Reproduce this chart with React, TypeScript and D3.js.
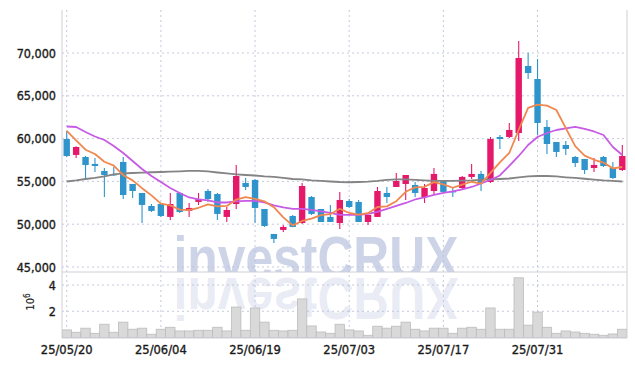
import React from "react";
import * as d3 from "d3";

const opens = [59950,58090,57850,57040,56220,55870,57270,54700,53650,52130,52360,50850,53650,51550,52600,53880,53530,50850,52360,54820,55170,51780,48860,49330,50960,50140,53180,51780,50850,50140,52710,52600,50260,50850,53650,54350,54700,54580,53180,53880,55050,53880,54230,55520,55870,54930,60190,60190,60650,68480,66960,61360,59600,59250,57850,57620,56570,57850,56570,56330];
const highs = [60890,59100,57970,57740,56570,56680,57850,54700,53650,52360,52360,53650,53770,52480,53650,54110,53650,52010,56920,55400,55280,51780,48860,49910,51080,54820,53300,51780,52250,53770,52950,52830,51080,54350,54350,55980,55750,54930,54700,56570,55170,54350,55630,57040,56220,60190,60420,61830,71400,70030,69300,62170,59600,59720,57970,57620,57740,57970,57270,59250];
const lows = [57850,57740,55170,56100,53180,55630,52940,53060,50140,51430,50850,50490,51310,50850,52250,52600,50490,50260,51780,54000,50140,49680,47810,49100,49640,50030,51080,50260,50260,49440,51900,50260,49910,50850,52480,54350,52830,53180,52480,53410,53650,53180,54110,55280,53880,54820,58790,60070,59720,66960,60420,58200,57850,58090,56680,55870,56100,56680,55280,56220];
const closes = [57970,59020,56920,56800,55750,55750,53410,53880,52250,51550,50960,52360,51430,51900,52950,52940,51200,51660,55630,54350,51900,49790,48280,49680,49680,54460,51200,50260,50260,52830,52010,50260,51080,53880,53180,55050,55750,53650,54230,55870,53770,53770,55520,55870,54820,59950,59950,61010,69420,67660,61830,59370,58440,58790,57150,56330,56920,56800,55400,57970];
const volumes = [0.58,0.4,0.71,0.32,1.01,0.4,1.17,0.63,0.71,0.25,0.63,0.78,0.5,0.5,0.55,0.55,0.78,0.5,2.32,0.55,2.25,1.17,0.55,0.5,0.55,2.94,0.88,0.42,0.32,1.01,0.58,0.5,0.17,0.86,0.71,0.86,1.17,0.63,0.5,0.71,0.71,0.32,0.71,0.78,0.63,2.25,0.63,0.63,4.55,0.94,1.94,0.78,0.32,0.5,0.42,0.32,0.25,0.17,0.27,0.63];
const ma5 = [60890,59800,58700,58200,57292,56848,55726,55118,54208,53368,52410,52200,51710,51640,51920,52316,52084,52130,52876,53156,52948,52666,51990,50800,49866,50378,50660,51056,51172,51802,51312,51124,51288,52012,52082,52690,53788,54302,54372,54910,54654,54258,54632,54960,54750,55986,57222,58320,61030,63598,63974,63858,63344,61218,59116,58016,57526,57198,56520,56684];
const ma20 = [61415,61357,60773,60247,59838,59138,58320,57386,56451,55634,54933,54232,53648,53122,52889,52772,52538,52538,52655,52714,52714,52538,52188,51954,51779,51779,51662,51487,51312,51078,51078,51078,51195,51429,51779,52130,52480,52889,53122,53414,53648,53823,54057,54349,54758,55166,55692,56802,57970,59254,60189,60656,61006,61182,61357,61123,60831,60422,59021,58086];
const ma60 = [54990,55110,55280,55400,55575,55810,55930,55980,56020,56070,56100,56140,56180,56220,56220,56160,56040,55930,55830,55750,55690,55580,55520,55400,55280,55230,55110,55050,54990,54930,54900,54930,54970,55050,55170,55230,55230,55170,55110,55050,55050,55050,55090,55110,55170,55230,55280,55340,55460,55580,55630,55630,55580,55480,55400,55310,55200,55110,55050,54990];

const priceTicks = [45000, 50000, 55000, 60000, 65000, 70000];
const volTicks = [2, 4];
const dateTickIdx = [0, 10, 20, 30, 40, 50];
const dateTickLabels = ["25/05/20", "25/06/04", "25/06/19", "25/07/03", "25/07/17", "25/07/31"];

const UP = "#e5186a";
const DOWN = "#2e94cb";
const FONT = "'DejaVu Sans Condensed', 'DejaVu Sans', sans-serif";

export default function App() {
  const W = 635, H = 366;
  const left = 62, right = 627, top = 10, sep = 272, bottom = 338;
  const n = closes.length;
  const x = d3.scaleLinear().domain([-0.5, n - 0.5]).range([left, right]);
  const y = d3.scaleLinear().domain([45000, 70000]).range([267, 53]);
  const yv = d3.scaleLinear().domain([0, 4]).range([337.5, 285]);
  const step = x(1) - x(0);
  const bw = 6.4;
  const idx = d3.range(n);
  const lineGen = (arr: number[]) =>
    d3.line<number>().x((_, i) => x(i)).y((v) => y(v))(arr) || "";

  const grid = "#c5c9dd";
  const wm = {
    x: 316, y: 278, textAnchor: "middle" as const,
    fontFamily: "'Liberation Sans', Arial, sans-serif", fontWeight: "bold",
    fontSize: 60, textLength: 285, lengthAdjust: "spacingAndGlyphs" as const,
  };
  return (
    <svg width={W} height={H} style={{ position: "absolute", left: 0, top: 0 }}>
      <defs>
        <clipPath id="pc"><rect x={left} y={top} width={right - left} height={sep - top} /></clipPath>
        <clipPath id="vc"><rect x={left} y={sep} width={right - left} height={bottom - sep} /></clipPath>
      </defs>
      <rect x={0} y={0} width={W} height={H} fill="#fff" />
      {/* grid */}
      {priceTicks.map((t) => (
        <line key={"pg" + t} x1={left} x2={right} y1={y(t)} y2={y(t)} stroke={grid} strokeDasharray="2,3" />
      ))}
      {volTicks.map((t) => (
        <line key={"vg" + t} x1={left} x2={right} y1={yv(t)} y2={yv(t)} stroke={grid} strokeDasharray="2,3" />
      ))}
      {dateTickIdx.map((i) => (
        <line key={"dg" + i} x1={x(i)} x2={x(i)} y1={top} y2={bottom} stroke={grid} strokeDasharray="2,3" />
      ))}
      {/* watermark */}
      <g clipPath="url(#pc)">
        <text {...wm} fill="#b4bedc" fillOpacity={0.66}>investCRUX</text>
      </g>
      <g clipPath="url(#vc)">
        <g transform="translate(0,556) scale(1,-1)">
          <text {...wm} fill="#b4bedc" fillOpacity={0.3}>investCRUX</text>
        </g>
      </g>
      {/* volume */}
      <g clipPath="url(#vc)">
        {idx.map((i) => (
          <rect key={"v" + i} x={x(i) - step / 2} y={yv(volumes[i])} width={step} height={yv(0) - yv(volumes[i])} fill="#d9d9d9" stroke="#bcbcbc" strokeWidth={0.8} />
        ))}
      </g>
      {/* candles */}
      <g clipPath="url(#pc)">
        {idx.map((i) => {
          const up = closes[i] >= opens[i];
          const c = up ? UP : DOWN;
          const yt = y(Math.max(opens[i], closes[i]));
          const yb = y(Math.min(opens[i], closes[i]));
          return (
            <g key={"c" + i}>
              <line x1={x(i)} x2={x(i)} y1={y(highs[i])} y2={y(lows[i])} stroke={c} strokeWidth={1.1} />
              <rect x={x(i) - bw / 2} y={yt} width={bw} height={Math.max(1.4, yb - yt)} fill={c} />
            </g>
          );
        })}
        <path d={lineGen(ma60)} fill="none" stroke="#848484" strokeWidth={1.8} strokeLinejoin="round" />
        <path d={lineGen(ma20)} fill="none" stroke="#c85be6" strokeWidth={1.8} strokeLinejoin="round" />
        <path d={lineGen(ma5)} fill="none" stroke="#f0874e" strokeWidth={1.8} strokeLinejoin="round" />
      </g>
      {/* frame */}
      <line x1={left} x2={left} y1={top} y2={bottom} stroke="#cfcfd8" />
      <line x1={right} x2={right} y1={top} y2={bottom} stroke="#cfcfd8" />
      <line x1={left} x2={right} y1={sep} y2={sep} stroke="#cfcfd8" />
      <line x1={left} x2={right} y1={bottom} y2={bottom} stroke="#cfcfd8" />
      {/* axis labels */}
      <g fontFamily={FONT} fill="#1a1a1a" stroke="#1a1a1a" strokeWidth={0.35}>
        {priceTicks.map((t) => (
          <text key={"pl" + t} x={56} y={y(t) + 4.5} textAnchor="end" fontSize={12.5}>{d3.format(",")(t)}</text>
        ))}
        {volTicks.map((t) => (
          <text key={"vl" + t} x={56} y={yv(t) + 4.5} textAnchor="end" fontSize={12.5}>{t}</text>
        ))}
        <text transform="translate(34,302) rotate(-90)" textAnchor="middle" fontSize={11} strokeWidth={0.15}>10<tspan dy={-4} fontSize={8}>6</tspan></text>
        {dateTickIdx.map((i, k) => (
          <text key={"dl" + i} x={x(i)} y={354} textAnchor="middle" fontSize={12.8}>{dateTickLabels[k]}</text>
        ))}
      </g>
    </svg>
  );
}
